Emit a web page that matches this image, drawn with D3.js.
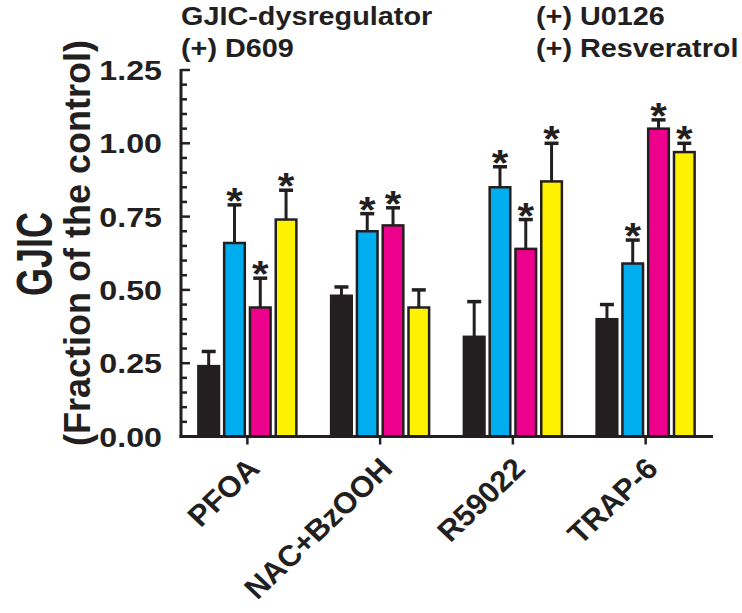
<!DOCTYPE html>
<html><head><meta charset="utf-8">
<script src="https://cdn.jsdelivr.net/npm/d3@7"></script>
<style>body{margin:0;background:#fff}svg{display:block}text{font-family:"Liberation Sans",Arial,sans-serif;font-weight:bold;fill:#231f20}</style>
</head><body><svg id="c" width="742" height="613"></svg>
<script>
const categories = ["PFOA","NAC+BzOOH","R59022","TRAP-6"];
const seriesNames = ["GJIC-dysregulator","(+) D609","(+) U0126","(+) Resveratrol"];
const colors = ["#231f20","#00aeef","#ec008c","#fff200"];
const dysregulator = [0.24,0.48,0.34,0.40];
const d609 = [0.66,0.70,0.85,0.59];
const u0126 = [0.44,0.72,0.64,1.05];
const resveratrol = [0.74,0.44,0.87,0.97];
const errDysregulator = [0.05,0.03,0.12,0.05];
const errD609 = [0.13,0.06,0.07,0.08];
const errU0126 = [0.10,0.06,0.10,0.03];
const errResveratrol = [0.10,0.06,0.13,0.03];
const sigDysregulator = [false,false,false,false];
const sigD609 = [true,true,true,true];
const sigU0126 = [true,true,true,true];
const sigResveratrol = [true,false,true,true];
const yTicks = [0,0.25,0.5,0.75,1.0,1.25];

const values=[dysregulator,d609,u0126,resveratrol];
const errs=[errDysregulator,errD609,errU0126,errResveratrol];
const sigs=[sigDysregulator,sigD609,sigU0126,sigResveratrol];
const data=[];
categories.forEach((c,i)=>seriesNames.forEach((s,j)=>data.push({c,s,j,v:values[j][i],e:errs[j][i],sig:sigs[j][i]})));

const svg=d3.select("#c");
const x0=181,x1=712,yb=436.5,yt=70;
const x=d3.scaleBand().domain(categories).range([x0,x1]).padding(0);
const xs=d3.scaleBand().domain(seriesNames).range([-49,49]).paddingInner(0.2);
const y=d3.scaleLinear().domain([0,1.25]).range([yb,yt]);
const ink="#231f20";
const SX=1.15; // horizontal stretch of the original figure's lettering

// bars
const g=svg.append("g");
g.selectAll("rect").data(data).join("rect")
 .attr("x",d=>x(d.c)+x.bandwidth()/2+xs(d.s))
 .attr("y",d=>y(d.v)).attr("width",xs.bandwidth()).attr("height",d=>y(0)-y(d.v))
 .attr("fill",d=>colors[d.j]).attr("stroke",ink).attr("stroke-width",2.5);
// error bars
const cx=d=>x(d.c)+x.bandwidth()/2+xs(d.s)+xs.bandwidth()/2;
g.selectAll("line.e").data(data).join("line").attr("class","e")
 .attr("x1",cx).attr("x2",cx).attr("y1",d=>y(d.v)).attr("y2",d=>y(d.v+d.e))
 .attr("stroke",ink).attr("stroke-width",3);
g.selectAll("line.cap").data(data).join("line").attr("class","cap")
 .attr("x1",d=>cx(d)-7).attr("x2",d=>cx(d)+7).attr("y1",d=>y(d.v+d.e)).attr("y2",d=>y(d.v+d.e))
 .attr("stroke",ink).attr("stroke-width",3.5);
g.selectAll("text.star").data(data.filter(d=>d.sig)).join("text").attr("class","star")
 .attr("transform",d=>`translate(${cx(d)},${y(d.v+d.e)+9}) scale(${SX},1)`).attr("text-anchor","middle")
 .style("font-size","37px").text("*");

// y axis
const yMinor=d3.range(0,1.2501,0.05);
const ya=svg.append("g").attr("transform",`translate(${x0},0)`);
ya.append("line").attr("y1",yt-1).attr("y2",yb+1.5).attr("stroke",ink).attr("stroke-width",3);
ya.selectAll("line.mi").data(yMinor).join("line").attr("class","mi")
 .attr("x1",0).attr("x2",d=>yTicks.some(t=>Math.abs(t-d)<1e-6)?9:6).attr("y1",d=>y(d)).attr("y2",d=>y(d))
 .attr("stroke",ink).attr("stroke-width",2.5);
ya.selectAll("text").data(yTicks).join("text")
 .attr("transform",d=>`translate(-19,${y(d)}) scale(${SX},1)`).attr("dy","0.36em")
 .attr("text-anchor","end").style("font-size","28px").text(d=>d3.format(".2f")(d));

// x axis
const xa=svg.append("g").attr("transform",`translate(0,${yb})`);
xa.append("line").attr("x1",x0-1.5).attr("x2",713).attr("stroke",ink).attr("stroke-width",3);
xa.selectAll("line.t").data(categories).join("line").attr("class","t")
 .attr("x1",d=>x(d)+x.bandwidth()/2).attr("x2",d=>x(d)+x.bandwidth()/2).attr("y1",0).attr("y2",8)
 .attr("stroke",ink).attr("stroke-width",2.5);
xa.selectAll("text").data(categories).join("text")
 .attr("transform",d=>`translate(${x(d)+x.bandwidth()/2+14},${34}) scale(1.05,1) rotate(-45)`)
 .attr("text-anchor","end").style("font-size","29.5px").text(d=>d);

// y title
svg.append("text").attr("transform","translate(52,254) rotate(-90) scale(1,1.4)").attr("text-anchor","middle")
 .style("font-size","36px").text("GJIC");
svg.append("text").attr("transform","translate(90,243) rotate(-90)").attr("text-anchor","middle")
 .style("font-size","36px").text("(Fraction of the control)");

// legend
const lg=svg.append("g").style("font-size","25.5px");
const legPos=[[181,25],[181,57],[536,25],[536,57]];
seriesNames.forEach((s,i)=>lg.append("text")
 .attr("transform",`translate(${legPos[i][0]},${legPos[i][1]}) scale(1.13,1)`).text(s));
</script></body></html>
